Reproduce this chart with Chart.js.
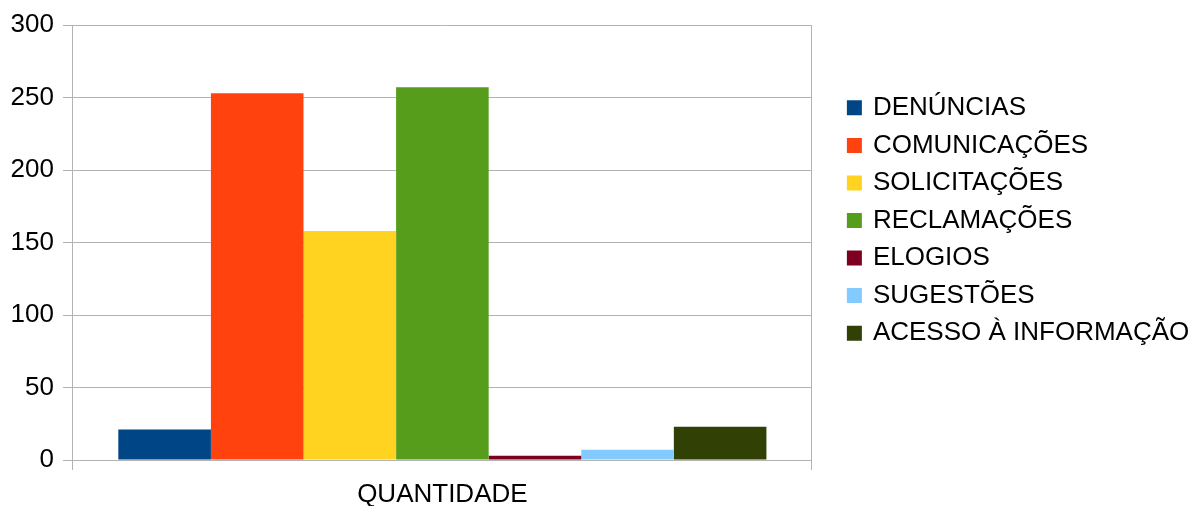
<!DOCTYPE html>
<html>
<head>
<meta charset="utf-8">
<script src="https://cdn.jsdelivr.net/npm/chart.js@4"></script>
<style>
  body { margin: 0; background: #fff; }
  #wrap { width: 1193px; height: 506px; }
</style>
</head>
<body>
<div id="wrap"><canvas id="chart" width="1193" height="506"></canvas></div>
<script>
const categories = ["QUANTIDADE"];
const seriesNames = ["DENÚNCIAS", "COMUNICAÇÕES", "SOLICITAÇÕES", "RECLAMAÇÕES", "ELOGIOS", "SUGESTÕES", "ACESSO À INFORMAÇÃO"];
const seriesValues = [21, 253, 158, 257, 3, 7, 23];
const seriesColors = ["#004586", "#ff420e", "#ffd320", "#579d1c", "#7e0021", "#83caff", "#314004"];
const yTicks = [0, 50, 100, 150, 200, 250, 300];

const gridColor = "#b3b3b3";
const font = { family: "'Liberation Sans', Arial, sans-serif", size: 26 };
const legendGap = 11.55;

// the legend is capped at a quarter of the width, so move it by hand
// next to the plot like in the original
const legendPlace = {
  id: "legendPlace",
  afterLayout(chart) {
    const lg = chart.legend;
    lg.left = chart.chartArea.right + 37 - legendGap;
    lg.right = chart.width;
    lg.top = 0;
    lg.bottom = 441;
  }
};

new Chart(document.getElementById("chart"), {
  type: "bar",
  data: {
    labels: categories,
    datasets: seriesNames.map((name, i) => ({
      label: name,
      data: [seriesValues[i]],
      backgroundColor: seriesColors[i],
      borderWidth: 0,
      barPercentage: 1,
      categoryPercentage: 0.877,
    })),
  },
  options: {
    responsive: false,
    animation: false,
    devicePixelRatio: 1,
    layout: { padding: { left: 1.5, top: 25, right: 111, bottom: -14 } },
    plugins: {
      tooltip: { enabled: false },
      legend: {
        position: "right",
        labels: {
          boxWidth: 11,
          boxHeight: 11,
          padding: legendGap,
          color: "#000",
          font: font,
          generateLabels(chart) {
            const items = Chart.defaults.plugins.legend.labels.generateLabels(chart);
            items.forEach(it => {
              it.lineWidth = 4;
              it.strokeStyle = it.fillStyle;
            });
            return items;
          },
        },
      },
    },
    scales: {
      x: {
        grid: { color: gridColor, tickLength: 10, offset: true },
        border: { color: gridColor },
        ticks: { color: "#000", font: { ...font, lineHeight: 1 }, padding: 12 },
      },
      y: {
        min: yTicks[0],
        max: yTicks[yTicks.length - 1],
        afterBuildTicks(axis) {
          axis.ticks = yTicks.map(v => ({ value: v }));
        },
        grid: { color: gridColor, tickLength: 10 },
        border: { color: gridColor },
        ticks: { color: "#000", font: font, padding: 9 },
      },
    },
  },
  plugins: [legendPlace],
});
</script>
</body>
</html>
